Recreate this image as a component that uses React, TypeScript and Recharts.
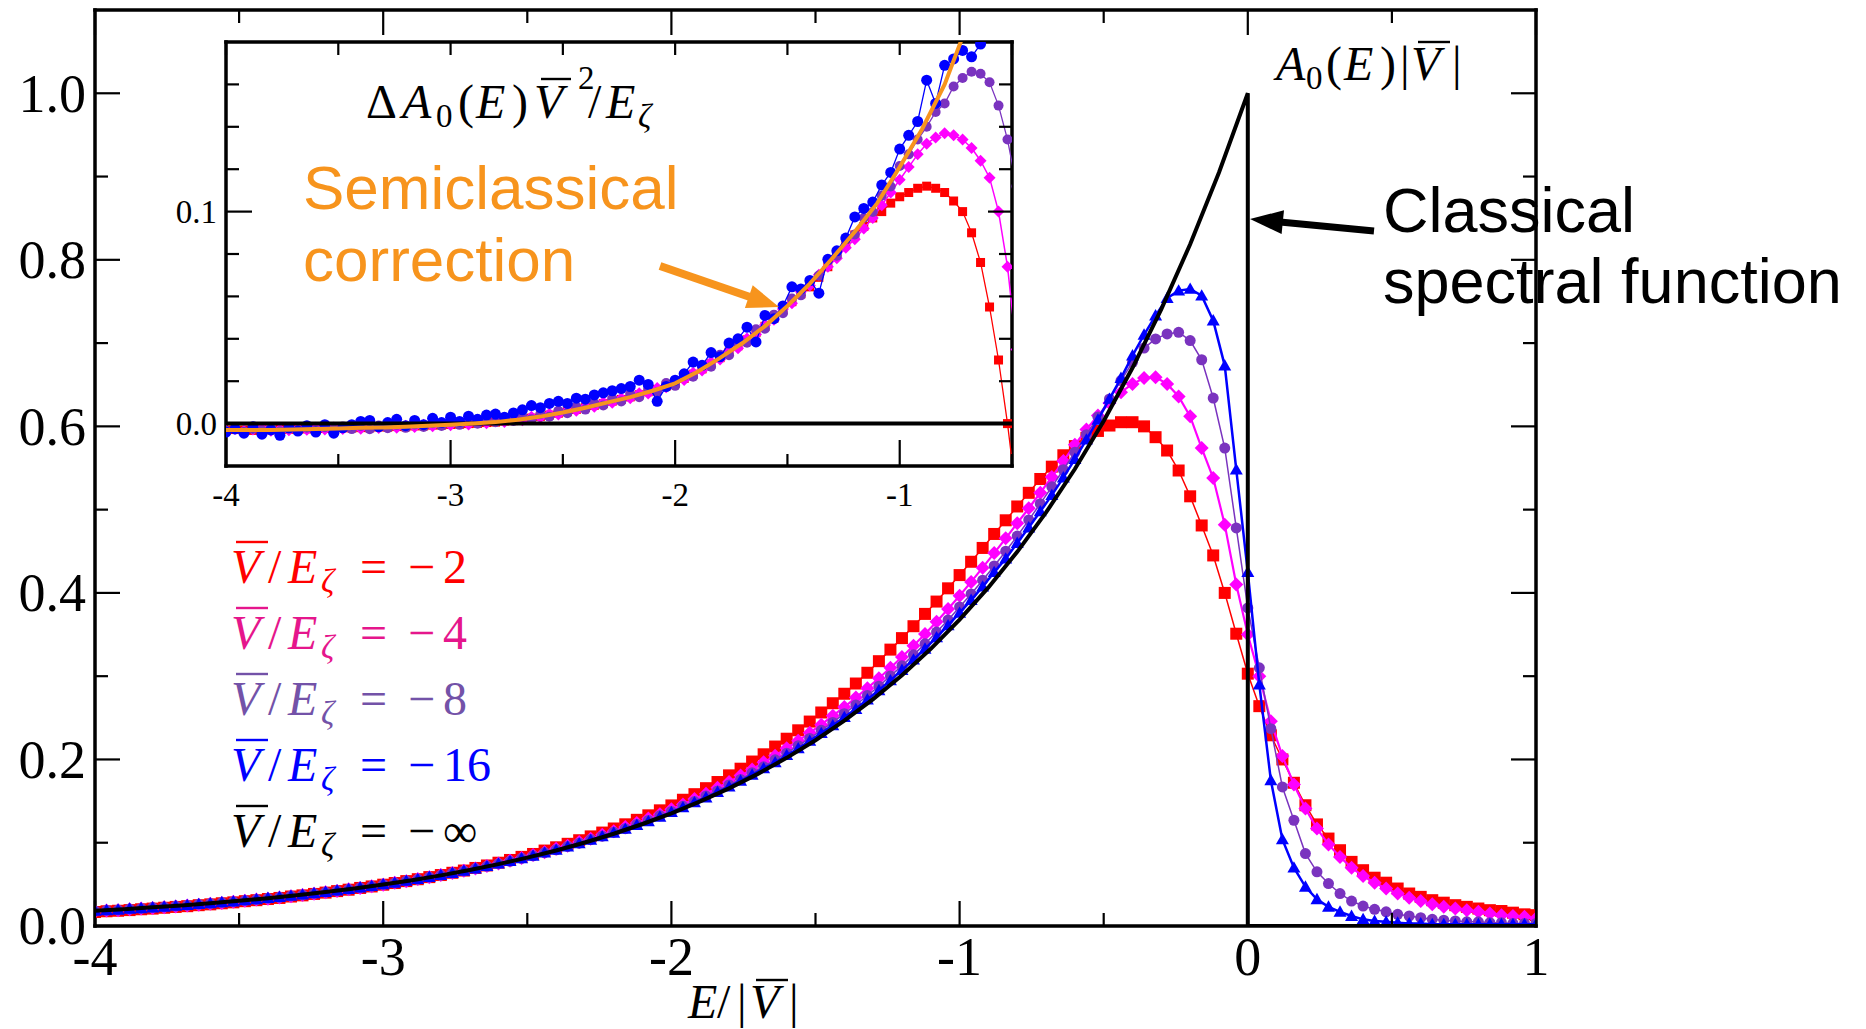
import { ScatterChart, Scatter, XAxis, YAxis } from "recharts";

// Energy grid E/|V| shared by the simulated spectra
const E_GRID = [
  -4, -3.96, -3.92, -3.88, -3.84, -3.8, -3.76, -3.72, -3.68, -3.64,
  -3.6, -3.56, -3.52, -3.48, -3.44, -3.4, -3.36, -3.32, -3.28, -3.24,
  -3.2, -3.16, -3.12, -3.08, -3.04, -3, -2.96, -2.92, -2.88, -2.84,
  -2.8, -2.76, -2.72, -2.68, -2.64, -2.6, -2.56, -2.52, -2.48, -2.44,
  -2.4, -2.36, -2.32, -2.28, -2.24, -2.2, -2.16, -2.12, -2.08, -2.04,
  -2, -1.96, -1.92, -1.88, -1.84, -1.8, -1.76, -1.72, -1.68, -1.64,
  -1.6, -1.56, -1.52, -1.48, -1.44, -1.4, -1.36, -1.32, -1.28, -1.24,
  -1.2, -1.16, -1.12, -1.08, -1.04, -1, -0.96, -0.92, -0.88, -0.84,
  -0.8, -0.76, -0.72, -0.68, -0.64, -0.6, -0.56, -0.52, -0.48, -0.44,
  -0.4, -0.36, -0.32, -0.28, -0.24, -0.2, -0.16, -0.12, -0.08, -0.04,
  0, 0.04, 0.08, 0.12, 0.16, 0.2, 0.24, 0.28, 0.32, 0.36,
  0.4, 0.44, 0.48, 0.52, 0.56, 0.6, 0.64, 0.68, 0.72, 0.76,
  0.8, 0.84, 0.88, 0.92, 0.96, 1,
];

// A0(E)|V| for V/Eζ = -2, -4, -8, -16 (main panel)
const A_M2 = [
  0.0168, 0.0177, 0.0183, 0.0191, 0.0201, 0.0209, 0.0219, 0.0229, 0.0238, 0.025,
  0.026, 0.0273, 0.0284, 0.0298, 0.031, 0.0324, 0.0337, 0.0354, 0.0368, 0.0385,
  0.0401, 0.0419, 0.0436, 0.0457, 0.0475, 0.0496, 0.0516, 0.0539, 0.0562, 0.0587,
  0.0612, 0.0639, 0.0666, 0.0697, 0.0727, 0.076, 0.0793, 0.083, 0.0865, 0.0906,
  0.0945, 0.0987, 0.103, 0.1076, 0.1122, 0.1171, 0.1221, 0.1275, 0.1329, 0.1389,
  0.1448, 0.1516, 0.1583, 0.1655, 0.1729, 0.1809, 0.1889, 0.1975, 0.2062, 0.2155,
  0.2249, 0.235, 0.2455, 0.2564, 0.2675, 0.2789, 0.2912, 0.3041, 0.318, 0.3319,
  0.3457, 0.36, 0.3748, 0.3896, 0.4055, 0.4214, 0.4374, 0.454, 0.4708, 0.4872,
  0.5038, 0.5202, 0.5368, 0.5516, 0.5653, 0.5763, 0.5862, 0.5945, 0.601, 0.605,
  0.605, 0.6, 0.587, 0.571, 0.547, 0.516, 0.481, 0.445, 0.4, 0.351,
  0.303, 0.264, 0.229, 0.2, 0.172, 0.145, 0.122, 0.105, 0.091, 0.077,
  0.067, 0.058, 0.052, 0.045, 0.039, 0.035, 0.031, 0.028, 0.025, 0.023,
  0.021, 0.019, 0.018, 0.016, 0.014, 0.013,
];
const A_M4 = [
  0.0175, 0.0185, 0.0189, 0.02, 0.021, 0.0216, 0.0226, 0.0234, 0.0247, 0.0256,
  0.0268, 0.0277, 0.0292, 0.0302, 0.0317, 0.0328, 0.0343, 0.0357, 0.0373, 0.0387,
  0.0406, 0.042, 0.044, 0.0457, 0.0477, 0.0496, 0.0519, 0.0538, 0.0563, 0.0585,
  0.0611, 0.0635, 0.0664, 0.069, 0.0722, 0.075, 0.0785, 0.0816, 0.0853, 0.0887,
  0.0927, 0.0964, 0.1008, 0.1048, 0.1095, 0.1138, 0.1189, 0.1236, 0.1291, 0.1343,
  0.1402, 0.146, 0.1526, 0.1589, 0.1661, 0.1729, 0.1806, 0.188, 0.1965, 0.2045,
  0.2135, 0.2224, 0.2322, 0.2418, 0.2525, 0.2629, 0.2743, 0.2856, 0.2975, 0.3102,
  0.323, 0.3365, 0.3506, 0.3654, 0.3808, 0.3967, 0.4132, 0.4303, 0.4478, 0.4655,
  0.4836, 0.5017, 0.5203, 0.5391, 0.5583, 0.5778, 0.5962, 0.613, 0.628, 0.641,
  0.651, 0.658, 0.659, 0.651, 0.636, 0.612, 0.574, 0.538, 0.482, 0.41,
  0.35, 0.3, 0.246, 0.204, 0.17, 0.141, 0.117, 0.098, 0.083, 0.07,
  0.06, 0.052, 0.045, 0.039, 0.034, 0.03, 0.026, 0.023, 0.021, 0.019,
  0.017, 0.015, 0.013, 0.012, 0.011, 0.009,
];
const A_M8 = [
  0.0179, 0.0188, 0.0193, 0.0204, 0.0211, 0.0221, 0.0229, 0.0239, 0.0248, 0.0261,
  0.0269, 0.0282, 0.0292, 0.0306, 0.0318, 0.0333, 0.0344, 0.0361, 0.0373, 0.0391,
  0.0406, 0.0424, 0.044, 0.046, 0.0477, 0.0499, 0.0517, 0.0541, 0.0561, 0.0586,
  0.0609, 0.0636, 0.0661, 0.069, 0.0717, 0.0749, 0.0777, 0.0813, 0.0843, 0.0882,
  0.0915, 0.0956, 0.0994, 0.1038, 0.1078, 0.1126, 0.1169, 0.122, 0.1268, 0.1324,
  0.1375, 0.1437, 0.1494, 0.156, 0.1622, 0.1694, 0.176, 0.1839, 0.1912, 0.1996,
  0.2075, 0.2165, 0.2252, 0.235, 0.2445, 0.255, 0.2654, 0.2767, 0.2879, 0.3003,
  0.3124, 0.3256, 0.3388, 0.353, 0.3675, 0.3831, 0.3988, 0.4153, 0.4323, 0.4501,
  0.4682, 0.4876, 0.5072, 0.5274, 0.5479, 0.5689, 0.59, 0.6113, 0.633, 0.655,
  0.677, 0.694, 0.705, 0.711, 0.713, 0.703, 0.68, 0.634, 0.574, 0.478,
  0.382, 0.31, 0.237, 0.167, 0.127, 0.087, 0.065, 0.051, 0.039, 0.03,
  0.024, 0.02, 0.017, 0.014, 0.012, 0.01, 0.008, 0.007, 0.006, 0.005,
  0.005, 0.004, 0.004, 0.003, 0.003, 0.003,
];
const A_M16 = [
  0.0181, 0.0189, 0.0195, 0.0206, 0.0212, 0.0222, 0.023, 0.0241, 0.025, 0.0262,
  0.0271, 0.0284, 0.0293, 0.0307, 0.0321, 0.0335, 0.0348, 0.0361, 0.0376, 0.0393,
  0.0407, 0.0425, 0.0442, 0.0462, 0.0478, 0.05, 0.0519, 0.0541, 0.0562, 0.0587,
  0.0611, 0.0635, 0.0662, 0.069, 0.0719, 0.0748, 0.0779, 0.0812, 0.0843, 0.088,
  0.0914, 0.0952, 0.0992, 0.1033, 0.1075, 0.1119, 0.1166, 0.1212, 0.1256, 0.1311,
  0.1366, 0.1424, 0.1484, 0.1543, 0.1609, 0.1673, 0.1744, 0.1816, 0.1892, 0.1964,
  0.2051, 0.2132, 0.2222, 0.2316, 0.2409, 0.2508, 0.2605, 0.2719, 0.2831, 0.2949,
  0.3073, 0.3198, 0.3328, 0.3466, 0.3609, 0.376, 0.3914, 0.4074, 0.4249, 0.4411,
  0.4599, 0.4785, 0.4978, 0.5174, 0.5385, 0.5608, 0.584, 0.6079, 0.633, 0.658,
  0.685, 0.71, 0.733, 0.754, 0.763, 0.765, 0.757, 0.727, 0.673, 0.548,
  0.425, 0.29, 0.175, 0.104, 0.07, 0.047, 0.032, 0.023, 0.017, 0.012,
  0.008, 0.006, 0.005, 0.004, 0.003, 0.003, 0.002, 0.002, 0.002, 0.002,
  0.002, 0.002, 0.002, 0.002, 0.002, 0.002,
];

// classical spectral function (V/Eζ = -inf), with the drop at E = 0
const CLASSICAL_E = [
  -4, -3.9, -3.8, -3.7, -3.6, -3.5, -3.4, -3.3, -3.2, -3.1,
  -3, -2.9, -2.8, -2.7, -2.6, -2.5, -2.4, -2.3, -2.2, -2.1,
  -2, -1.9, -1.8, -1.7, -1.6, -1.5, -1.4, -1.3, -1.2, -1.1,
  -1, -0.9, -0.8, -0.7, -0.6, -0.5, -0.4, -0.3, -0.2, -0.1, 0, 0, 1,
];
const CLASSICAL_A = [
  0.0183, 0.0202, 0.0224, 0.0247, 0.0273, 0.0302, 0.0334, 0.0369, 0.0408, 0.045,
  0.0498, 0.055, 0.0608, 0.0672, 0.0743, 0.0821, 0.0907, 0.1003, 0.1108, 0.1225,
  0.1353, 0.1496, 0.1653, 0.1827, 0.2019, 0.2231, 0.2466, 0.2725, 0.3012, 0.3329,
  0.3679, 0.4066, 0.4493, 0.4966, 0.5488, 0.6065, 0.6703, 0.7408, 0.8187, 0.9048, 1, 0, 0,
];

// inset: ΔA0(E) V^2/Eζ on E_GRID[0..88]
const DA_M2 = [
  -0.003, -0.0028, -0.003, -0.0032, -0.0029, -0.003, -0.0028, -0.0027, -0.0028, -0.0025,
  -0.0026, -0.0023, -0.0024, -0.002, -0.0021, -0.0019, -0.002, -0.0016, -0.0017, -0.0014,
  -0.0015, -0.0011, -0.0011, -0.0007, -0.0007, -0.0004, -0.0003, 0, 0.0001, 0.0005,
  0.0007, 0.0012, 0.0014, 0.0021, 0.0026, 0.0034, 0.004, 0.0049, 0.0056, 0.0067,
  0.0075, 0.0086, 0.0094, 0.0106, 0.0114, 0.0126, 0.0136, 0.015, 0.0161, 0.0177,
  0.019, 0.0213, 0.0233, 0.0258, 0.0282, 0.0311, 0.0337, 0.0367, 0.0395, 0.0429,
  0.0459, 0.0497, 0.0535, 0.0575, 0.0612, 0.0645, 0.069, 0.074, 0.08, 0.085,
  0.089, 0.093, 0.097, 0.1, 0.104, 0.107, 0.109, 0.111, 0.112, 0.111,
  0.109, 0.105, 0.1, 0.09, 0.076, 0.055, 0.03, 0, -0.035,
];
const DA_M4 = [
  -0.0033, -0.0025, -0.0035, -0.0028, -0.0022, -0.0034, -0.0027, -0.0031, -0.0022, -0.0029,
  -0.002, -0.0028, -0.0018, -0.0025, -0.0016, -0.0024, -0.0015, -0.0021, -0.0012, -0.0019,
  -0.001, -0.0016, -0.0006, -0.0012, -0.0002, -0.0008, 0.0003, -0.0004, 0.0008, 0.0002,
  0.0013, 0.0008, 0.0021, 0.0016, 0.0032, 0.0029, 0.0046, 0.0043, 0.0062, 0.0061,
  0.0081, 0.0079, 0.0101, 0.0098, 0.012, 0.0119, 0.0143, 0.0142, 0.0168, 0.0171,
  0.0196, 0.0206, 0.024, 0.0251, 0.029, 0.0302, 0.0345, 0.0356, 0.0402, 0.042,
  0.0465, 0.049, 0.054, 0.0568, 0.0622, 0.0652, 0.0702, 0.074, 0.078, 0.083,
  0.087, 0.092, 0.097, 0.103, 0.109, 0.115, 0.121, 0.127, 0.132, 0.135,
  0.137, 0.136, 0.134, 0.13, 0.124, 0.116, 0.1, 0.074, 0.035,
];
const DA_M8 = [
  -0.0035, -0.0022, -0.0038, -0.0025, -0.0033, -0.0021, -0.0036, -0.0024, -0.0031, -0.0019,
  -0.0032, -0.0017, -0.0028, -0.0014, -0.0026, -0.0011, -0.0027, -0.0009, -0.0022, -0.0006,
  -0.002, -0.0004, -0.0016, 0.0002, -0.0011, 0.0007, -0.0006, 0.0012, -0.0001, 0.0019,
  0.0006, 0.0026, 0.0012, 0.0034, 0.0021, 0.0045, 0.0032, 0.0061, 0.0049, 0.0079,
  0.0066, 0.0097, 0.0085, 0.0118, 0.0104, 0.014, 0.0124, 0.0163, 0.0148, 0.0191,
  0.0178, 0.0225, 0.0221, 0.0272, 0.0268, 0.0325, 0.0322, 0.0382, 0.0381, 0.0445,
  0.0447, 0.0514, 0.0521, 0.059, 0.0605, 0.0672, 0.0698, 0.0768, 0.0792, 0.0868,
  0.0892, 0.097, 0.0998, 0.1075, 0.1118, 0.1215, 0.127, 0.134, 0.14, 0.147,
  0.151, 0.159, 0.163, 0.166, 0.165, 0.161, 0.15, 0.134, 0.112,
];
const DA_M16 = [
  -0.004, -0.0025, -0.0045, -0.0015, -0.005, -0.003, -0.0055, -0.002, -0.0035, -0.001,
  -0.004, -0.0005, -0.0045, -0.002, -0.0005, 0.001, 0.0015, -0.0015, 0.0005, 0.002,
  -0.001, 0.0015, -0.0005, 0.0025, 0.0005, 0.003, 0.001, 0.0035, 0.002, 0.004,
  0.0045, 0.003, 0.005, 0.0065, 0.0085, 0.0075, 0.0095, 0.0105, 0.0095, 0.012,
  0.0115, 0.0135, 0.0145, 0.0155, 0.0165, 0.0175, 0.0205, 0.0185, 0.0105, 0.0175,
  0.0205, 0.0235, 0.029, 0.0275, 0.0335, 0.0315, 0.038, 0.04, 0.0455, 0.0385,
  0.051, 0.0495, 0.0555, 0.0645, 0.0635, 0.0675, 0.0615, 0.0775, 0.0815, 0.0875,
  0.0975, 0.1015, 0.1045, 0.1125, 0.1185, 0.1295, 0.136, 0.1425, 0.162, 0.151,
  0.169, 0.172, 0.176, 0.173, 0.179, 0.192, 0.205, 0.215, 0.22,
];

// semiclassical correction curve (inset)
const SEMI_E = [
  -4, -3.9, -3.8, -3.7, -3.6, -3.5, -3.4, -3.3, -3.2, -3.1,
  -3, -2.9, -2.8, -2.7, -2.6, -2.5, -2.4, -2.3, -2.2, -2.1,
  -2, -1.9, -1.8, -1.7, -1.6, -1.5, -1.4, -1.3, -1.2, -1.1,
  -1, -0.9, -0.8, -0.7, -0.6, -0.5,
];
const SEMI_DA = [
  -0.003, -0.003, -0.003, -0.0028, -0.0025, -0.0023, -0.002, -0.0018, -0.0015, -0.001,
  -0.0005, 0, 0.0007, 0.0018, 0.0033, 0.0052, 0.0075, 0.01, 0.0125, 0.0155,
  0.019, 0.0245, 0.031, 0.038, 0.046, 0.0555, 0.066, 0.078, 0.0905, 0.104,
  0.121, 0.139, 0.16, 0.188, 0.22, 0.255,
];

const ZERO_E = [-4, -0.5];
const ZERO_DA = [0, 0];

const MAIN_X_TICKS = [-4, -3.5, -3, -2.5, -2, -1.5, -1, -0.5, 0, 0.5, 1];
const MAIN_Y_TICKS = [0, 0.1, 0.2, 0.3, 0.4, 0.5, 0.6, 0.7, 0.8, 0.9, 1.0];
const INSET_X_TICKS = [-4, -3.5, -3, -2.5, -2, -1.5, -1, -0.5];
const INSET_Y_TICKS = [0, 0.02, 0.04, 0.06, 0.08, 0.1, 0.12, 0.14, 0.16];

const LEGEND = [
  { value: "2", color: "#ff0000" },
  { value: "4", color: "#e5168c" },
  { value: "8", color: "#7352a8" },
  { value: "16", color: "#0000ff" },
  { value: "∞", color: "#000000" },
];

const RED = "#ff0000";
const MAGENTA = "#ff00ff";
const PURPLE = "#7a33bf";
const BLUE = "#0000ff";
const ORANGE = "#f7941d";
const SERIF = "'Liberation Serif', 'Times New Roman', serif";
const SANS = "'Liberation Sans', Arial, sans-serif";

const pts = (xs: number[], ys: number[]) => ys.map((y, i) => ({ x: xs[i], y }));

type Kind = "square" | "diamond" | "circle" | "triangle" | "none";

function marker(kind: Kind, size: number, fill: string) {
  return (p: any) => {
    const cx = Number(p.cx);
    const cy = Number(p.cy);
    if (kind === "none" || !isFinite(cx) || !isFinite(cy)) return <g />;
    const h = size / 2;
    if (kind === "square") return <rect x={cx - h} y={cy - h} width={size} height={size} fill={fill} />;
    if (kind === "circle") return <circle cx={cx} cy={cy} r={h} fill={fill} />;
    if (kind === "diamond")
      return <polygon points={`${cx},${cy - h} ${cx + h},${cy} ${cx},${cy + h} ${cx - h},${cy}`} fill={fill} />;
    return <polygon points={`${cx},${cy - h} ${cx + h},${cy + h * 0.75} ${cx - h},${cy + h * 0.75}`} fill={fill} />;
  };
}

type Side = "bottom" | "top" | "left" | "right";

// inward frame ticks, labelled only where label() returns text
function frameTick(
  side: Side,
  isMajor: (v: number) => boolean,
  majorLen: number,
  minorLen: number,
  label: ((v: number) => string | null) | null,
  fontSize = 0,
  labelOffset = 0,
) {
  return (p: any) => {
    const x = Number(p.x);
    const y = Number(p.y);
    const v = Number(p.payload?.value);
    const len = isMajor(v) ? majorLen : minorLen;
    let x2 = x;
    let y2 = y;
    if (side === "bottom") y2 = y - len;
    if (side === "top") y2 = y + len;
    if (side === "left") x2 = x + len;
    if (side === "right") x2 = x - len;
    const text = label ? label(v) : null;
    return (
      <g>
        <line x1={x} y1={y} x2={x2} y2={y2} stroke="#000" strokeWidth={2.2} />
        {text !== null && side === "bottom" && (
          <text x={x} y={y + labelOffset} textAnchor="middle" fontFamily={SERIF} fontSize={fontSize} fill="#000">
            {text}
          </text>
        )}
        {text !== null && side === "left" && (
          <text x={x - labelOffset} y={y} dy="0.34em" textAnchor="end" fontFamily={SERIF} fontSize={fontSize} fill="#000">
            {text}
          </text>
        )}
      </g>
    );
  };
}

const isInt = (v: number) => Math.abs(v - Math.round(v)) < 1e-9;
const evenTenth = (v: number) => Math.round(v * 10) % 2 === 0;
const xLabel = (v: number) => (isInt(v) ? (v < 0 ? `-${Math.abs(v)}` : `${v}`) : null);
const frame = { stroke: "#000", strokeWidth: 3.5, strokeLinecap: "square" as const };

function MainPanel() {
  return (
    <ScatterChart width={1866} height={1029} margin={{ top: 9, right: 329, bottom: 43, left: 15 }}>
      <XAxis
        xAxisId="b" type="number" dataKey="x" domain={[-4, 1]} allowDataOverflow
        ticks={MAIN_X_TICKS} interval={0} height={60} tickSize={0} tickMargin={0}
        axisLine={frame} tickLine={false}
        tick={frameTick("bottom", isInt, 25, 13, xLabel, 54, 49)}
      />
      <XAxis
        xAxisId="t" orientation="top" type="number" dataKey="x" domain={[-4, 1]} allowDataOverflow
        ticks={MAIN_X_TICKS} interval={0} height={1} tickSize={0} tickMargin={0}
        axisLine={frame} tickLine={false}
        tick={frameTick("top", isInt, 25, 13, null)}
      />
      <YAxis
        yAxisId="l" type="number" dataKey="y" domain={[0, 1.1]} allowDataOverflow
        ticks={MAIN_Y_TICKS} interval={0} width={80} tickSize={0} tickMargin={0}
        axisLine={frame} tickLine={false}
        tick={frameTick("left", evenTenth, 25, 13, (v) => (evenTenth(v) ? v.toFixed(1) : null), 54, 9)}
      />
      <YAxis
        yAxisId="r" orientation="right" type="number" dataKey="y" domain={[0, 1.1]} allowDataOverflow
        ticks={MAIN_Y_TICKS} interval={0} width={1} tickSize={0} tickMargin={0}
        axisLine={frame} tickLine={false}
        tick={frameTick("right", evenTenth, 25, 13, null)}
      />
      <Scatter data={pts(E_GRID, A_M2)} xAxisId="b" yAxisId="l" fill={RED}
        line={{ stroke: RED, strokeWidth: 1.5 }} lineType="joint"
        shape={marker("square", 12, RED)} isAnimationActive={false} />
      <Scatter data={pts(E_GRID, A_M4)} xAxisId="b" yAxisId="l" fill={MAGENTA}
        line={{ stroke: MAGENTA, strokeWidth: 2.2 }} lineType="joint"
        shape={marker("diamond", 14, MAGENTA)} isAnimationActive={false} />
      <Scatter data={pts(E_GRID, A_M8)} xAxisId="b" yAxisId="l" fill={PURPLE}
        line={{ stroke: PURPLE, strokeWidth: 1.5 }} lineType="joint"
        shape={marker("circle", 11, PURPLE)} isAnimationActive={false} />
      <Scatter data={pts(E_GRID, A_M16)} xAxisId="b" yAxisId="l" fill={BLUE}
        line={{ stroke: BLUE, strokeWidth: 2.5 }} lineType="joint"
        shape={marker("triangle", 13, BLUE)} isAnimationActive={false} />
      <Scatter data={pts(CLASSICAL_E, CLASSICAL_A)} xAxisId="b" yAxisId="l" fill="#000"
        line={{ stroke: "#000", strokeWidth: 4 }} lineType="joint"
        shape={marker("none", 0, "#000")} isAnimationActive={false} />
    </ScatterChart>
  );
}

function InsetPanel() {
  const inset = pts.bind(null, E_GRID);
  return (
    <ScatterChart width={900} height={520} margin={{ top: 19, right: 13, bottom: 26, left: 30 }}>
      <XAxis
        xAxisId="b" type="number" dataKey="x" domain={[-4, -0.5]} allowDataOverflow
        ticks={INSET_X_TICKS} interval={0} height={50} tickSize={0} tickMargin={0}
        axisLine={frame} tickLine={false}
        tick={frameTick("bottom", isInt, 26, 12, xLabel, 33, 40)}
      />
      <XAxis
        xAxisId="t" orientation="top" type="number" dataKey="x" domain={[-4, -0.5]} allowDataOverflow
        ticks={INSET_X_TICKS} interval={0} height={1} tickSize={0} tickMargin={0}
        axisLine={frame} tickLine={false}
        tick={frameTick("top", () => false, 13, 13, null)}
      />
      <YAxis
        yAxisId="l" type="number" dataKey="y" domain={[-0.02, 0.18]} allowDataOverflow
        ticks={INSET_Y_TICKS} interval={0} width={70} tickSize={0} tickMargin={0}
        axisLine={frame} tickLine={false}
        tick={frameTick("left", (v) => Math.abs(v) < 1e-9 || Math.abs(v - 0.1) < 1e-9, 26, 13,
          (v) => (Math.abs(v) < 1e-9 ? "0.0" : Math.abs(v - 0.1) < 1e-9 ? "0.1" : null), 33, 9)}
      />
      <YAxis
        yAxisId="r" orientation="right" type="number" dataKey="y" domain={[-0.02, 0.18]} allowDataOverflow
        ticks={INSET_Y_TICKS} interval={0} width={1} tickSize={0} tickMargin={0}
        axisLine={frame} tickLine={false}
        tick={frameTick("right", (v) => Math.abs(v - 0.1) < 1e-9, 24, 13, null)}
      />
      <Scatter data={inset(DA_M2)} xAxisId="b" yAxisId="l" fill={RED}
        line={{ stroke: RED, strokeWidth: 1.3 }} lineType="joint"
        shape={marker("square", 9, RED)} isAnimationActive={false} />
      <Scatter data={inset(DA_M4)} xAxisId="b" yAxisId="l" fill={MAGENTA}
        line={{ stroke: MAGENTA, strokeWidth: 1.5 }} lineType="joint"
        shape={marker("diamond", 12, MAGENTA)} isAnimationActive={false} />
      <Scatter data={inset(DA_M8)} xAxisId="b" yAxisId="l" fill={PURPLE}
        line={{ stroke: PURPLE, strokeWidth: 1.3 }} lineType="joint"
        shape={marker("circle", 10, PURPLE)} isAnimationActive={false} />
      <Scatter data={inset(DA_M16)} xAxisId="b" yAxisId="l" fill={BLUE}
        line={{ stroke: BLUE, strokeWidth: 1.3 }} lineType="joint"
        shape={marker("circle", 11, BLUE)} isAnimationActive={false} />
      <Scatter data={pts(ZERO_E, ZERO_DA)} xAxisId="b" yAxisId="l" fill="#000"
        line={{ stroke: "#000", strokeWidth: 4 }} lineType="joint"
        shape={marker("none", 0, "#000")} isAnimationActive={false} />
      <Scatter data={pts(SEMI_E, SEMI_DA)} xAxisId="b" yAxisId="l" fill={ORANGE}
        line={{ stroke: ORANGE, strokeWidth: 4 }} lineType="joint"
        shape={marker("none", 0, ORANGE)} isAnimationActive={false} />
    </ScatterChart>
  );
}

const it = { fontFamily: SERIF, fontStyle: "italic" as const };
const up = { fontFamily: SERIF };

function Overline({ x1, x2, y, color = "#000" }: { x1: number; x2: number; y: number; color?: string }) {
  return <line x1={x1} x2={x2} y1={y} y2={y} stroke={color} strokeWidth={2.4} />;
}

function Annotations() {
  return (
    <svg width={1866} height={1029} style={{ position: "absolute", left: 0, top: 0, pointerEvents: "none" }}>
      {/* curve label A0(E)|V| */}
      <g fontSize={48} fill="#000">
        <text x={1276} y={80} style={it}>A</text>
        <text x={1306} y={89} fontSize={33} style={up}>0</text>
        <text x={1326} y={80} style={up}>(</text>
        <text x={1344} y={80} style={it}>E</text>
        <text x={1380} y={80} style={up}>)</text>
        <text x={1400} y={80} style={up}>|</text>
        <text x={1411} y={80} style={it}>V</text>
        <Overline x1={1418} x2={1450} y={42} />
        <text x={1452} y={80} style={up}>|</text>
      </g>

      {/* x axis title */}
      <g fontSize={48} fill="#000">
        <text x={688} y={1018} style={it}>E</text>
        <text x={717} y={1018} style={up}>/</text>
        <text x={737} y={1018} style={up}>|</text>
        <text x={750} y={1018} style={it}>V</text>
        <Overline x1={756} x2={788} y={980} />
        <text x={789} y={1018} style={up}>|</text>
      </g>

      {/* inset title */}
      <g fontSize={48} fill="#000">
        <text x={366} y={118} style={up}>Δ</text>
        <text x={402} y={118} style={it}>A</text>
        <text x={436} y={127} fontSize={33} style={up}>0</text>
        <text x={458} y={118} style={up}>(</text>
        <text x={476} y={118} style={it}>E</text>
        <text x={512} y={118} style={up}>)</text>
        <text x={534} y={118} style={it}>V</text>
        <Overline x1={541} x2={571} y={79} />
        <text x={578} y={89} fontSize={33} style={up}>2</text>
        <text x={588} y={118} style={up}>/</text>
        <text x={606} y={118} style={it}>E</text>
        <text x={638} y={127} fontSize={33} style={it}>ζ</text>
      </g>

      {/* legend */}
      {LEGEND.map((row, i) => {
        const b = 583 + 66 * i;
        return (
          <g key={row.value} fontSize={48} fill={row.color}>
            <text x={231} y={b} style={it}>V</text>
            <Overline x1={236} x2={268} y={b - 41} color={row.color} />
            <text x={268} y={b} style={up}>/</text>
            <text x={288} y={b} style={it}>E</text>
            <text x={321} y={b + 9} fontSize={33} style={it}>ζ</text>
            <text x={360} y={b} style={up}>=</text>
            <text x={408} y={b} style={up}>−</text>
            <text x={443} y={b} style={up}>{row.value}</text>
          </g>
        );
      })}

      {/* semiclassical annotation */}
      <g fontFamily={SANS} fontSize={62} fill={ORANGE}>
        <text x={303} y={209}>Semiclassical</text>
        <text x={303} y={281}>correction</text>
      </g>
      <line x1={660} y1={266} x2={750} y2={297} stroke={ORANGE} strokeWidth={8} />
      <polygon points="779,307 744.9,307.9 752.7,285.3" fill={ORANGE} />

      {/* classical annotation */}
      <g fontFamily={SANS} fontSize={63} fill="#000">
        <text x={1383} y={232}>Classical</text>
        <text x={1383} y={303}>spectral function</text>
      </g>
      <line x1={1374} y1={231} x2={1280} y2={222} stroke="#000" strokeWidth={7} />
      <polygon points="1250,219 1284,210.3 1281.6,234.1" fill="#000" />
    </svg>
  );
}

export default function App() {
  return (
    <div style={{ position: "absolute", left: 0, top: 0, width: 1866, height: 1029, background: "#fff", overflow: "hidden" }}>
      <div style={{ position: "absolute", left: 0, top: 0 }}>
        <MainPanel />
      </div>
      <div style={{ position: "absolute", left: 126, top: 22 }}>
        <InsetPanel />
      </div>
      <Annotations />
    </div>
  );
}
